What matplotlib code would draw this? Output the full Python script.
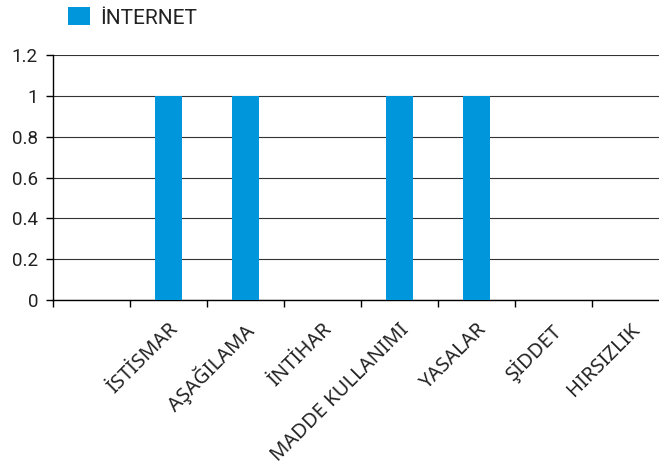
import matplotlib
matplotlib.use("Agg")
import matplotlib.pyplot as plt
from matplotlib.transforms import ScaledTranslation
from matplotlib.patches import Patch
import numpy as np

categories = ["", "İSTİSMAR", "AŞAĞILAMA", "İNTİHAR", "MADDE KULLANIMI",
              "YASALAR", "ŞİDDET", "HIRSIZLIK"]
internet = [0, 1, 1, 0, 1, 1, 0, 0]
series_name = "İNTERNET"
y_ticks = [0, 0.2, 0.4, 0.6, 0.8, 1.0, 1.2]

BLUE = "#0096DB"
W, H = 659, 469
fig = plt.figure(figsize=(W / 100, H / 100), dpi=100)
ax = fig.add_axes([53.3 / W, 169 / H, 616 / W, 245 / H])

x = np.arange(len(categories))
ax.bar(x, internet, width=0.35, color=BLUE, zorder=3)

ax.set_xlim(-0.5, len(categories) - 0.5)
ax.set_ylim(0, 1.2)
ax.set_yticks(y_ticks)
ax.set_yticklabels([f"{v:g}" for v in y_ticks], fontfamily="Roboto",
                   fontsize=13.5, color="#222222")
ax.yaxis.grid(True, color="#333333", linewidth=0.8, zorder=0)
ax.set_axisbelow(True)

# major ticks at category boundaries, labels on minor ticks at centers
ax.set_xticks(np.arange(len(categories) + 1) - 0.5)
ax.set_xticklabels([])
ax.set_xticks(x, minor=True)
ax.set_xticklabels(categories, minor=True, rotation=45, ha="right",
                   fontfamily="Noto Sans", fontsize=14.5, color="#222222")
ax.tick_params(axis="x", which="major", length=5, width=1, color="black")
ax.tick_params(axis="x", which="minor", length=0, pad=14)
ax.tick_params(axis="y", length=5, width=1, color="black", pad=6)

off = ScaledTranslation(13 / 100, 0, fig.dpi_scale_trans)
for lab in ax.get_xticklabels(minor=True):
    lab.set_transform(lab.get_transform() + off)

for s in ["top", "right"]:
    ax.spines[s].set_visible(False)
ax.spines["left"].set_color("black")
ax.spines["bottom"].set_color("black")
ax.spines["left"].set_linewidth(1)
ax.spines["bottom"].set_linewidth(1)

fs_leg = 15
fig.legend(handles=[Patch(facecolor=BLUE, edgecolor="none", label=series_name)],
           loc="center left", bbox_to_anchor=(68 / W, 1 - 17.5 / H),
           frameon=False, borderpad=0, borderaxespad=0,
           handlelength=22 / (fs_leg * 100 / 72), handleheight=20 / (fs_leg * 100 / 72),
           handletextpad=10 / (fs_leg * 100 / 72),
           prop={"family": "Roboto", "size": fs_leg}, labelcolor="#222222")

fig.savefig("out.png", dpi=100)
